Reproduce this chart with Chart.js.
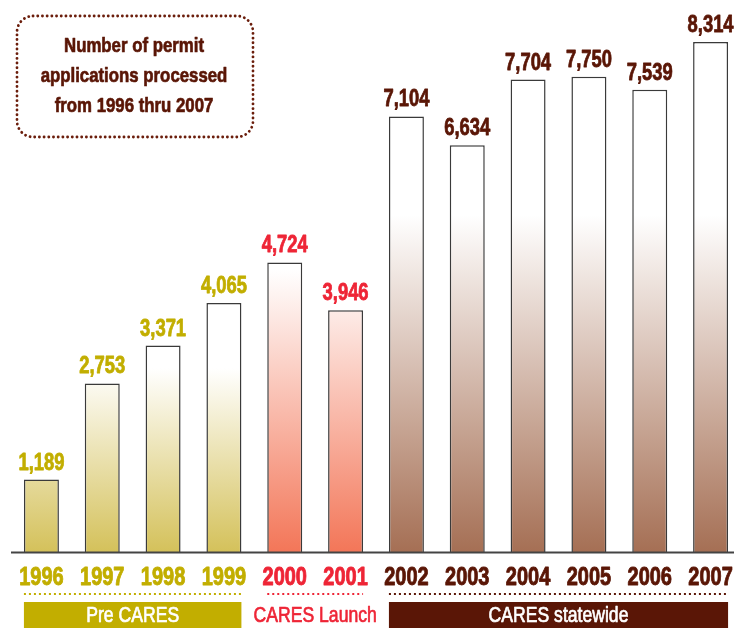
<!DOCTYPE html>
<html>
<head>
<meta charset="utf-8">
<script src="https://cdn.jsdelivr.net/npm/chart.js@4"></script>
<style>
  html, body { margin: 0; padding: 0; background: #fff; overflow: hidden; }
  canvas { display: block; }
</style>
</head>
<body>
<canvas id="permits-chart" width="746" height="628"></canvas>
<script>
// data
const years = ['1996', '1997', '1998', '1999', '2000', '2001', '2002', '2003', '2004', '2005', '2006', '2007'];
const permits = [1189, 2753, 3371, 4065, 4724, 3946, 7104, 6634, 7704, 7750, 7539, 8314];
const groupOf = [0, 0, 0, 0, 1, 1, 2, 2, 2, 2, 2, 2];
const groupNames = ['Pre CARES', 'CARES Launch', 'CARES statewide'];
const titleLines = ['Number of permit', 'applications processed', 'from 1996 thru 2007'];

// colours per group
const textColors = ['#c2ae00', '#ee2536', '#5a1606'];
const fillColors = ['#d4c15a', '#f37658', '#a56f54'];
const whiteFrom = [3000, 4600, 5500]; // value above which the bar fades to white

const FONT = '"Liberation Sans", Arial, sans-serif';
const NARROW = 0.8; // squeeze to look like a condensed face

function barGradient(context) {
    const chart = context.chart;
    const area = chart.chartArea;
    if (!area) return fillColors[groupOf[context.dataIndex]];
    const g = groupOf[context.dataIndex];
    const y = chart.scales.y;
    const grad = chart.ctx.createLinearGradient(0, y.getPixelForValue(whiteFrom[g]), 0, y.getPixelForValue(0));
    grad.addColorStop(0, '#ffffff');
    grad.addColorStop(1, fillColors[g]);
    return grad;
}

// draw text squeezed horizontally, with an optional thin outline to make it heavier
function narrowText(ctx, text, x, y, heavy) {
    ctx.save();
    ctx.translate(x, y);
    ctx.scale(NARROW, 1);
    ctx.fillText(text, 0, 0);
    if (heavy) {
        ctx.strokeStyle = ctx.fillStyle;
        ctx.lineWidth = heavy;
        ctx.lineJoin = 'round';
        ctx.strokeText(text, 0, 0);
    }
    ctx.restore();
}

const decorations = {
    id: 'decorations',
    afterDatasetsDraw(chart) {
        const ctx = chart.ctx;
        const yScale = chart.scales.y;
        const xScale = chart.scales.x;
        const base = yScale.getPixelForValue(0);
        const bars = chart.getDatasetMeta(0).data;

        // baseline
        ctx.save();
        ctx.strokeStyle = '#444';
        ctx.lineWidth = 2;
        ctx.beginPath();
        ctx.moveTo(chart.chartArea.left, base);
        ctx.lineTo(chart.width, base);
        ctx.stroke();

        // value labels
        ctx.textAlign = 'center';
        ctx.textBaseline = 'alphabetic';
        ctx.font = 'bold 23px ' + FONT;
        bars.forEach(function (bar, i) {
            ctx.fillStyle = textColors[groupOf[i]];
            narrowText(ctx, permits[i].toLocaleString('en-US'), bar.x, bar.y - 10, 0.8);
        });

        // year labels
        ctx.font = 'bold 25px ' + FONT;
        ctx.textBaseline = 'middle';
        years.forEach(function (yr, i) {
            ctx.fillStyle = textColors[groupOf[i]];
            narrowText(ctx, yr, xScale.getPixelForValue(i), 578, 0.9);
        });

        // dotted lines and group labels
        groupNames.forEach(function (name, g) {
            const idx = groupOf.map((v, i) => v === g ? i : -1).filter(i => i >= 0);
            const first = bars[idx[0]], last = bars[idx[idx.length - 1]];
            const x0 = first.x - first.width / 2;
            const x1 = last.x + last.width / 2;

            ctx.strokeStyle = textColors[g];
            ctx.lineWidth = 2;
            ctx.setLineDash([2, 3]);
            ctx.beginPath();
            ctx.moveTo(x0, 594);
            ctx.lineTo(x1, 594);
            ctx.stroke();
            ctx.setLineDash([]);

            ctx.font = '22px ' + FONT;
            if (g === 1) {
                ctx.fillStyle = textColors[g];
                narrowText(ctx, name, (x0 + x1) / 2, 616, 0.7);
            } else {
                ctx.fillStyle = g === 0 ? '#c2ae00' : '#5a1606';
                ctx.fillRect(x0, 602, x1 - x0, 30);
                ctx.fillStyle = '#fff';
                narrowText(ctx, name, (x0 + x1) / 2, 616, 0.7);
            }
        });

        // title box
        ctx.strokeStyle = '#6b1e0c';
        ctx.lineWidth = 2.8;
        ctx.lineCap = 'round';
        ctx.setLineDash([0.1, 4.6]);
        ctx.beginPath();
        ctx.roundRect(17, 16, 236, 121, 16);
        ctx.stroke();
        ctx.setLineDash([]);

        ctx.fillStyle = '#5a1606';
        ctx.font = 'bold 21px ' + FONT;
        titleLines.forEach(function (line, i) {
            narrowText(ctx, line, 134, 46 + i * 30, 0.7);
        });
        ctx.restore();
    }
};

const ctx = document.getElementById('permits-chart').getContext('2d');
const permitsChart = new Chart(ctx, {
    type: 'bar',
    data: {
        labels: years,
        datasets: [{
            data: permits,
            backgroundColor: barGradient,
            borderColor: '#3a3a3a',
            borderWidth: 1.5,
            barPercentage: 0.575,
            categoryPercentage: 1
        }]
    },
    options: {
        responsive: false,
        animation: false,
        layout: { padding: { left: 11, right: 5, top: 0, bottom: 75.5 } },
        plugins: { legend: { display: false }, tooltip: { enabled: false } },
        scales: {
            x: { display: false },
            y: { display: false, min: 0, max: 9000 }
        }
    },
    plugins: [decorations]
});
</script>
</body>
</html>
